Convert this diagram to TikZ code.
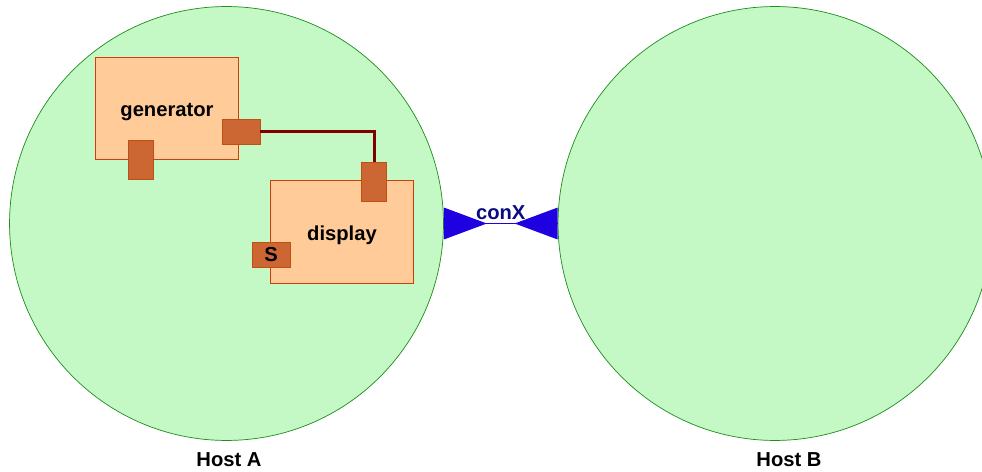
\documentclass[tikz,border=0pt]{standalone}
\usepackage{fontspec}
\setmainfont{Liberation Sans}
\usetikzlibrary{positioning}

\definecolor{hostfill}{RGB}{196,248,196}
\definecolor{hostline}{RGB}{30,140,30}
\definecolor{compfill}{RGB}{255,204,153}
\definecolor{compline}{RGB}{210,60,10}
\definecolor{portfill}{RGB}{204,102,51}
\definecolor{portline}{RGB}{190,80,20}
\definecolor{wirecol}{RGB}{128,0,0}
\definecolor{conxcol}{RGB}{30,0,225}
\definecolor{conxtext}{RGB}{10,10,130}

\begin{document}
\begin{tikzpicture}[x=0.02cm, y=-0.02cm,
	host/.style={circle, draw=hostline, fill=hostfill, minimum size=8.68cm, inner sep=0pt},
	comp/.style={draw=compline, fill=compfill, minimum width=2.86cm, minimum height=2.05cm, inner sep=0pt},
	port/.style={draw=portline, fill=portfill, inner sep=0pt},
	hport/.style={port, minimum width=0.76cm, minimum height=0.5cm},
	vport/.style={port, minimum width=0.5cm, minimum height=0.78cm},
	every node/.style={font=\fontsize{11.5}{13}\selectfont\bfseries}]
	\useasboundingbox (0,0) rectangle (982,472);
	\clip (0,0) rectangle (982,472);

	% hosts
	\node[host] (hostA) at (226.5,223.5) {};
	\node[host] (hostB) at (775,223.5) {};
	\node (labA) at (229,460) {Host A};
	\node (labB) at (789,460) {Host B};

	% components
	\node[comp] (gen) at (166.5,108.5) {};
	\node (genlab) at (167,112) {generator};
	\node[comp] (disp) at (341.5,232) {};
	\node (displab) at (342,235) {display};

	% ports
	\node[hport] (genout) at (241,131.5) {};
	\node[vport] (genbot) at (140.5,159.5) {};
	\node[vport] (dispin) at (374,181.5) {};
	\node[hport] (sport) at (271,255) {S};

	\draw [wirecol, line width=1.7pt] (genout.east) -| (dispin.north);

	% connection between hosts
	\fill [conxcol] (hostA.east) ++(0,-16) -- ++(43,16) -- ++(-43,16) -- cycle;
	\fill [conxcol] (hostB.west) ++(0,-16) -- ++(-43,16) -- ++(43,16) -- cycle;
	\draw [conxcol, line width=1pt] (hostA.east) -- node[above=-1.5pt, text=conxtext] (conxlab) {conX} (hostB.west);
\end{tikzpicture}
\end{document}
